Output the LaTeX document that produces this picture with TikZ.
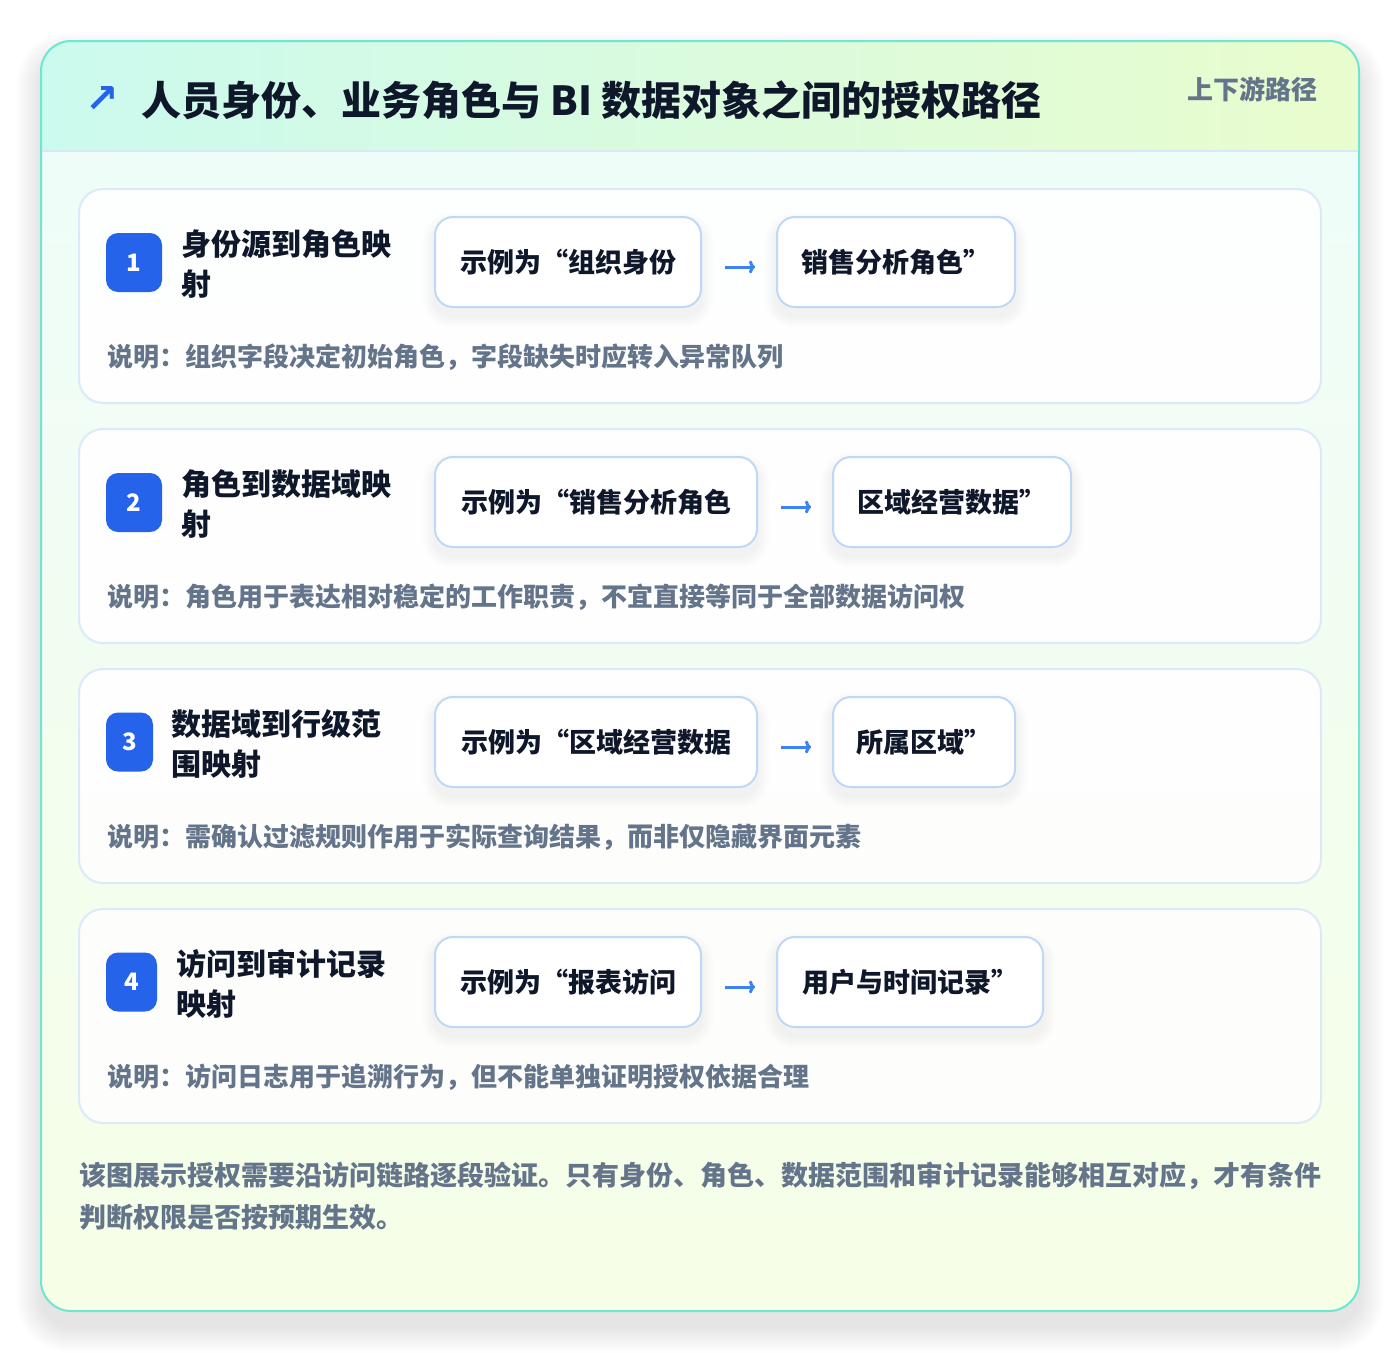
\documentclass[tikz,border=0pt]{standalone}
\usepackage{fontspec}
\setmainfont{Noto Sans CJK SC}
\newfontfamily\symfont{DejaVu Sans}
\usetikzlibrary{arrows.meta}
\definecolor{tealline}{HTML}{6EE7D2}
\definecolor{headL}{HTML}{CBFAEE}
\definecolor{headR}{HTML}{E9FCCD}
\definecolor{bodyT}{HTML}{EFFDF9}
\definecolor{bodyB}{HTML}{F6FEE6}
\definecolor{sepline}{HTML}{D9E8F6}
\definecolor{cardline}{HTML}{DCE9FA}
\definecolor{boxline}{HTML}{BFD8F8}
\definecolor{ink}{HTML}{0F172A}
\definecolor{slate}{HTML}{64748B}
\definecolor{badgeblue}{HTML}{2563EB}
\definecolor{arrowblue}{HTML}{3B82F6}
\pgfdeclarelayer{back}
\pgfdeclarelayer{cards}
\pgfdeclarelayer{shad}
\pgfsetlayers{back,cards,shad,main}
\newcommand{\boxshadow}[1]{%
  \begin{pgfonlayer}{shad}
    \foreach \i in {1,...,12} {
      \fill[black, opacity=0.0045, rounded corners={18+\i}]
        ([shift={(-\i,\i+8)}]#1.south west) rectangle ([shift={(\i,-\i+8)}]#1.north east);
    }
  \end{pgfonlayer}}
\tikzset{
  titletext/.style={anchor=west, inner sep=0pt, text=ink, font=\fontsize{40}{48}\selectfont\bfseries},
  tagtext/.style={anchor=east, inner sep=0pt, text=slate, font=\fontsize{26}{30}\selectfont\bfseries},
  stepcard/.style={draw=cardline, line width=2pt, fill=white, fill opacity=0.88, rounded corners=24pt, minimum width=1242pt, minimum height=214pt, inner sep=0pt},
  badge/.style={fill=badgeblue, rounded corners=12pt, minimum height=59pt, inner sep=0pt, text=white, font=\fontsize{24}{28}\selectfont\bfseries},
  steptitle/.style={anchor=west, inner sep=0pt, align=left, text=ink, font=\fontsize{30}{40}\selectfont\bfseries},
  exbox/.style={draw=boxline, line width=2pt, fill=white, rounded corners=18pt, minimum height=90pt, inner sep=0pt, text=ink, font=\fontsize{27}{32}\selectfont\bfseries},
  notetext/.style={anchor=west, inner sep=0pt, text=slate, font=\fontsize{26}{30}\selectfont\bfseries},
  flow/.style={draw=arrowblue, line width=3pt, -{To[length=6pt,width=13pt,line width=3pt]}, shorten <=23pt, shorten >=21pt},
  bodytext/.style={anchor=west, inner sep=0pt, align=left, text=slate, font=\fontsize{27}{42}\selectfont\bfseries},
}
\begin{document}
\begin{tikzpicture}[x=1pt,y=-1pt]
\useasboundingbox (0,0) rectangle (1400,1352);
% page, outer card shadow and body
\begin{pgfonlayer}{back}
  \fill[white] (0,0) rectangle (1400,1352);
  \foreach \i in {1,...,26} {
    \fill[black, opacity=0.0034, rounded corners={30+\i}] (41-\i,41-\i+16) rectangle (1359+\i,1311+\i+16);
  }
  \begin{scope}
    \clip[rounded corners=30pt] (41,41) rectangle (1359,1311);
    \shade[top color=bodyT, bottom color=bodyB] (41,151) rectangle (1359,1311);
    \shade[left color=headL, right color=headR] (41,41) rectangle (1359,151);
  \end{scope}
  \draw[sepline, line width=2pt] (41,151) -- (1359,151);
  \draw[tealline, line width=2pt, rounded corners=30pt] (41,41) rectangle (1359,1311);
\end{pgfonlayer}

% header
\node[anchor=center, inner sep=0pt, text=badgeblue, font=\symfont\bfseries\fontsize{40}{44}\selectfont] (icon) at (102,99) {↗};
\node[titletext] (title) at (141,100) {人员身份、业务角色与 BI 数据对象之间的授权路径};
\node[tagtext] (tag) at (1318,89) {上下游路径};

% step cards
\begin{pgfonlayer}{cards}
  \node[stepcard] (card1) at (700,296) {};
  \node[stepcard] (card2) at (700,536) {};
  \node[stepcard] (card3) at (700,776) {};
  \node[stepcard] (card4) at (700,1016) {};
\end{pgfonlayer}

% step 1
\node[badge, minimum width=56pt] (n1) at (134,262.5) {1};
\node[steptitle] (t1) at (181,264) {身份源到角色映\\射};
\node[exbox, minimum width=266pt] (b11) at (568,262) {示例为“组织身份};
\node[exbox, minimum width=238pt] (b12) at (896,262) {销售分析角色”};
\draw[flow] ([yshift=-5pt]b11.east) -- ([yshift=-5pt]b12.west);
\node[notetext] (d1) at (107,357) {说明：组织字段决定初始角色，字段缺失时应转入异常队列};
\boxshadow{b11}\boxshadow{b12}

% step 2
\node[badge, minimum width=56pt] (n2) at (134,502.5) {2};
\node[steptitle] (t2) at (181,504) {角色到数据域映\\射};
\node[exbox, minimum width=322pt] (b21) at (596,502) {示例为“销售分析角色};
\node[exbox, minimum width=238pt] (b22) at (952,502) {区域经营数据”};
\draw[flow] ([yshift=-5pt]b21.east) -- ([yshift=-5pt]b22.west);
\node[notetext] (d2) at (107,597) {说明：角色用于表达相对稳定的工作职责，不宜直接等同于全部数据访问权};
\boxshadow{b21}\boxshadow{b22}

% step 3
\node[badge, minimum width=47pt] (n3) at (129.5,742) {3};
\node[steptitle] (t3) at (171,744) {数据域到行级范\\围映射};
\node[exbox, minimum width=322pt] (b31) at (596,742) {示例为“区域经营数据};
\node[exbox, minimum width=182pt] (b32) at (924,742) {所属区域”};
\draw[flow] ([yshift=-5pt]b31.east) -- ([yshift=-5pt]b32.west);
\node[notetext] (d3) at (107,837) {说明：需确认过滤规则作用于实际查询结果，而非仅隐藏界面元素};
\boxshadow{b31}\boxshadow{b32}

% step 4
\node[badge, minimum width=51pt] (n4) at (131.5,982) {4};
\node[steptitle] (t4) at (176,984) {访问到审计记录\\映射};
\node[exbox, minimum width=266pt] (b41) at (568,982) {示例为“报表访问};
\node[exbox, minimum width=266pt] (b42) at (910,982) {用户与时间记录”};
\draw[flow] ([yshift=-5pt]b41.east) -- ([yshift=-5pt]b42.west);
\node[notetext] (d4) at (107,1077) {说明：访问日志用于追溯行为，但不能单独证明授权依据合理};
\boxshadow{b41}\boxshadow{b42}

% summary
\node[bodytext] (summary) at (79,1196) {该图展示授权需要沿访问链路逐段验证。只有身份、角色、数据范围和审计记录能够相互对应，才有条件\\判断权限是否按预期生效。};
\end{tikzpicture}
\end{document}
